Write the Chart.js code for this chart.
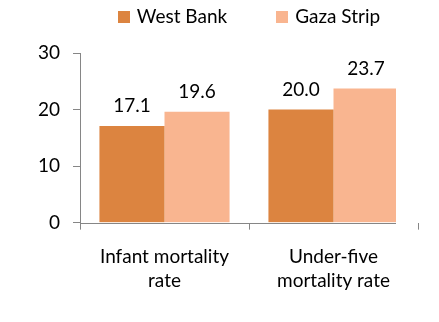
<!DOCTYPE html>
<html>
<head>
<meta charset="utf-8">
<script src="https://cdn.jsdelivr.net/npm/chart.js@4/dist/chart.umd.min.js"></script>
<style>
  html, body { margin: 0; padding: 0; background: #fff; }
  #wrap { width: 439px; height: 322px; }
</style>
</head>
<body>
<div id="wrap"><canvas id="mortChart"></canvas></div>
<script>
// data
const categories = [["Infant mortality", "rate"], ["Under-five", "mortality rate"]];
const westBank = [17.1, 20.0];
const gazaStrip = [19.6, 23.7];
const yTicks = [0, 10, 20, 30];

const axisGrey = "#868686";
const labelFont = "19px Lato";
const cutRight = 22; // the plot is cut short on the right in the original

const extras = {
  id: "extras",
  // value labels above the bars
  afterDatasetsDraw(chart) {
    const ctx = chart.ctx;
    ctx.save();
    ctx.font = labelFont;
    ctx.fillStyle = "#000";
    ctx.textAlign = "center";
    ctx.textBaseline = "middle";
    chart.data.datasets.forEach((ds, i) => {
      chart.getDatasetMeta(i).data.forEach((bar, j) => {
        ctx.fillText(ds.data[j].toFixed(1), bar.x, bar.y - 20);
      });
    });
    ctx.restore();
  },
  afterDraw(chart) {
    const a = chart.chartArea;
    const ctx = chart.ctx;
    ctx.save();
    // x axis line stops where the plot was cut
    ctx.strokeStyle = axisGrey;
    ctx.lineWidth = 1;
    ctx.beginPath();
    ctx.moveTo(a.left, Math.round(a.bottom) + 0.5);
    ctx.lineTo(a.right - cutRight, Math.round(a.bottom) + 0.5);
    ctx.stroke();

    // legend, centred over the plot area
    ctx.font = labelFont;
    ctx.textBaseline = "middle";
    ctx.textAlign = "left";
    const box = 12, gap = 7, spacing = 49, y = 17;
    const items = chart.data.datasets.map((ds) => ({
      text: ds.label,
      color: ds.backgroundColor,
      w: box + gap + ctx.measureText(ds.label).width,
    }));
    const total = items.reduce((s, it) => s + it.w, 0) + spacing * (items.length - 1);
    let x = (a.left + a.right) / 2 - total / 2;
    items.forEach((it) => {
      ctx.fillStyle = it.color;
      ctx.fillRect(Math.round(x), y - box / 2, box, box);
      ctx.fillStyle = "#000";
      ctx.fillText(it.text, x + box + gap, y);
      x += it.w + spacing;
    });
    ctx.restore();
  },
};

const ctx = document.getElementById("mortChart").getContext("2d");
new Chart(ctx, {
  type: "bar",
  data: {
    labels: categories,
    datasets: [
      {
        label: "West Bank",
        data: westBank,
        backgroundColor: "#DC8440",
        categoryPercentage: 0.77,
        barPercentage: 1,
        clip: { left: 0, top: false, right: -cutRight, bottom: 0 },
      },
      {
        label: "Gaza Strip",
        data: gazaStrip,
        backgroundColor: "#F9B590",
        categoryPercentage: 0.77,
        barPercentage: 1,
        clip: { left: 0, top: false, right: -cutRight, bottom: 0 },
      },
    ],
  },
  options: {
    responsive: true,
    maintainAspectRatio: false,
    animation: false,
    layout: {
      padding: { left: 0, right: 21, top: 53, bottom: 14 },
    },
    plugins: {
      legend: { display: false },
      tooltip: { enabled: false },
    },
    scales: {
      y: {
        min: 0,
        max: 30,
        afterBuildTicks(scale) {
          scale.ticks = yTicks.map((v) => ({ value: v }));
        },
        afterFit(scale) {
          scale.width = 80;
        },
        border: { display: true, color: axisGrey },
        grid: {
          drawOnChartArea: false,
          drawTicks: true,
          tickLength: 7,
          color: axisGrey,
        },
        ticks: {
          padding: 13,
          color: "#000",
          font: { family: "Lato", size: 19 },
        },
      },
      x: {
        border: { display: false },
        grid: {
          drawOnChartArea: false,
          drawTicks: true,
          tickLength: 7,
          color: (c) => (c.index === categories.length ? "transparent" : axisGrey),
        },
        ticks: {
          padding: 16,
          maxRotation: 0,
          color: "#000",
          font: { family: "Lato", size: 19, lineHeight: 1.22 },
        },
      },
    },
  },
  plugins: [extras],
});
</script>
</body>
</html>
